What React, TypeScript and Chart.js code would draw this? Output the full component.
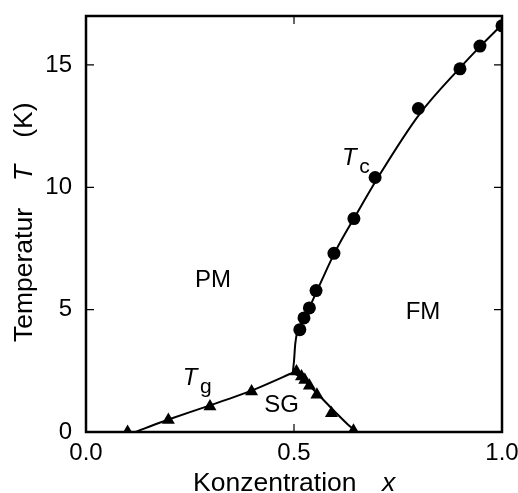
import React, { useEffect, useRef } from "react";
import { Chart, registerables } from "chart.js";

Chart.register(...registerables);

const FONT = '"Liberation Sans", Arial, Helvetica, sans-serif';

// Tc measured points (circles)
const tcX = [0.514, 0.524, 0.537, 0.553, 0.596, 0.644, 0.695, 0.799, 0.899, 0.947, 1.0];
const tcT = [4.18, 4.66, 5.07, 5.78, 7.3, 8.72, 10.4, 13.22, 14.84, 15.77, 16.6];

// Tg / SG boundary measured points (triangles)
const tgX = [0.1, 0.198, 0.298, 0.398, 0.506, 0.518, 0.526, 0.537, 0.555, 0.59, 0.643];
const tgT = [0.0, 0.49, 1.04, 1.65, 2.47, 2.27, 2.13, 1.89, 1.52, 0.77, 0.05];

// Guide curves
const tcCurveX = [0.497, 0.5, 0.503, 0.508, 0.52, 0.54, 0.56, 0.6, 0.65, 0.7, 0.8, 0.9, 0.95, 1.0];
const tcCurveT = [2.42, 2.9, 3.6, 4.1, 4.5, 5.2, 5.95, 7.4, 8.9, 10.35, 12.95, 14.9, 15.8, 16.65];
const tgCurveX = [0.118, 0.2, 0.3, 0.4, 0.497];
const tgCurveT = [0.0, 0.52, 1.1, 1.7, 2.42];
const sgCurveX = [0.497, 0.52, 0.54, 0.56, 0.6, 0.63, 0.652];
const sgCurveT = [2.42, 2.2, 1.85, 1.5, 0.8, 0.3, 0.0];

// Axis ticks
const xTicks = [0.0, 0.5, 1.0];
const yTicks = [0, 5, 10, 15];

// Region labels
const regionText = ["PM", "FM", "SG"];
const regionX = [0.305, 0.81, 0.47];
const regionY = [6.2, 4.9, 1.1];
const subText = ["c", "g"];
const subX = [0.633, 0.25];
const subY = [11.2, 2.2];

const pts = (xs: number[], ys: number[]) => xs.map((x, i) => ({ x, y: ys[i] }));

const overlay = {
  id: "overlay",
  afterDraw(chart: any) {
    const { ctx, chartArea, scales } = chart;
    const { left, right, top, bottom } = chartArea;
    const xs = scales.x;
    const ys = scales.y;
    ctx.save();
    ctx.strokeStyle = "#000";
    ctx.lineWidth = 1.2;
    ctx.beginPath();
    xTicks.forEach((v) => {
      if (v <= 0 || v >= 1) return;
      const p = xs.getPixelForValue(v);
      ctx.moveTo(p, bottom);
      ctx.lineTo(p, bottom - 8);
      ctx.moveTo(p, top);
      ctx.lineTo(p, top + 8);
    });
    yTicks.forEach((v) => {
      if (v <= 0) return;
      const p = ys.getPixelForValue(v);
      ctx.moveTo(left, p);
      ctx.lineTo(left + 8, p);
      ctx.moveTo(right, p);
      ctx.lineTo(right - 8, p);
    });
    ctx.stroke();
    ctx.lineWidth = 2.5;
    ctx.strokeRect(left, top, right - left, bottom - top);

    ctx.fillStyle = "#000";
    ctx.textBaseline = "middle";
    ctx.textAlign = "center";
    ctx.font = `24px ${FONT}`;
    regionText.forEach((t, i) => {
      ctx.fillText(t, xs.getPixelForValue(regionX[i]), ys.getPixelForValue(regionY[i]));
    });
    subText.forEach((s, i) => {
      const px = xs.getPixelForValue(subX[i]);
      const py = ys.getPixelForValue(subY[i]);
      ctx.font = `italic 24px ${FONT}`;
      ctx.textAlign = "center";
      ctx.fillText("T", px, py);
      ctx.font = `21px ${FONT}`;
      ctx.textAlign = "left";
      ctx.fillText(s, px + 10, py + 9);
    });

    // x title
    ctx.textAlign = "left";
    ctx.textBaseline = "alphabetic";
    ctx.font = `26.5px ${FONT}`;
    ctx.fillText("Konzentration", left + 107, bottom + 59);
    ctx.font = `italic 26.5px ${FONT}`;
    ctx.fillText("x", left + 296, bottom + 59);

    // y title
    ctx.translate(32, 0);
    ctx.rotate(-Math.PI / 2);
    let pos = -342;
    ctx.font = `26.5px ${FONT}`;
    ctx.fillText("Temperatur", pos, 0);
    pos += ctx.measureText("Temperatur").width + 27;
    ctx.font = `italic 26.5px ${FONT}`;
    ctx.fillText("T", pos, 0);
    pos += ctx.measureText("T").width + 27;
    ctx.font = `26.5px ${FONT}`;
    ctx.fillText("(K)", pos, 0);
    ctx.restore();
  },
};

export default function App() {
  const ref = useRef<HTMLCanvasElement>(null);
  useEffect(() => {
    const canvas = ref.current!;
    const chart = new Chart(canvas, {
      type: "scatter",
      data: {
        datasets: [
          {
            data: pts(tcCurveX, tcCurveT),
            showLine: true,
            borderColor: "#000",
            borderWidth: 2,
            pointRadius: 0,
            cubicInterpolationMode: "monotone",
            clip: 0,
          },
          {
            data: pts(tgCurveX, tgCurveT),
            showLine: true,
            borderColor: "#000",
            borderWidth: 2,
            pointRadius: 0,
            tension: 0.2,
            clip: 0,
          },
          {
            data: pts(sgCurveX, sgCurveT),
            showLine: true,
            borderColor: "#000",
            borderWidth: 2,
            pointRadius: 0,
            cubicInterpolationMode: "monotone",
            clip: 0,
          },
          {
            data: pts(tcX, tcT),
            pointStyle: "circle",
            pointRadius: 6.5,
            backgroundColor: "#000",
            borderColor: "#000",
            borderWidth: 0,
            clip: 0,
          },
          {
            data: pts(tgX, tgT),
            pointStyle: "triangle",
            pointRadius: 7.5,
            backgroundColor: "#000",
            borderColor: "#000",
            borderWidth: 0,
            clip: 0,
          },
        ] as any,
      },
      plugins: [overlay],
      options: {
        animation: false,
        responsive: true,
        maintainAspectRatio: false,
        layout: { padding: { left: 0, right: 16, top: 16, bottom: 0 } },
        plugins: { legend: { display: false }, tooltip: { enabled: false } },
        scales: {
          x: {
            type: "linear",
            min: 0,
            max: 1,
            grid: { display: false, drawTicks: false },
            border: { display: false },
            afterFit: (s: any) => {
              s.height = 61;
              s.paddingLeft = 0;
              s.paddingRight = 0;
              s.paddingTop = 0;
              s.paddingBottom = 0;
            },
            afterBuildTicks: (s: any) => {
              s.ticks = xTicks.map((v) => ({ value: v }));
            },
            ticks: {
              padding: 7,
              color: "#000",
              font: { family: FONT, size: 24 },
              maxRotation: 0,
              callback: (v: any) => Number(v).toFixed(1),
            },
          },
          y: {
            type: "linear",
            min: 0,
            max: 17,
            grid: { display: false, drawTicks: false },
            border: { display: false },
            afterFit: (s: any) => {
              s.width = 86;
              s.paddingLeft = 0;
              s.paddingRight = 0;
              s.paddingTop = 0;
              s.paddingBottom = 0;
            },
            afterBuildTicks: (s: any) => {
              s.ticks = yTicks.map((v) => ({ value: v }));
            },
            ticks: {
              padding: 14,
              color: "#000",
              font: { family: FONT, size: 24 },
              callback: (v: any) => String(v),
            },
          },
        },
      } as any,
    });
    return () => chart.destroy();
  }, []);
  return (
    <div style={{ position: "absolute", left: 0, top: 0, width: 518, height: 493 }}>
      <canvas ref={ref} />
    </div>
  );
}
